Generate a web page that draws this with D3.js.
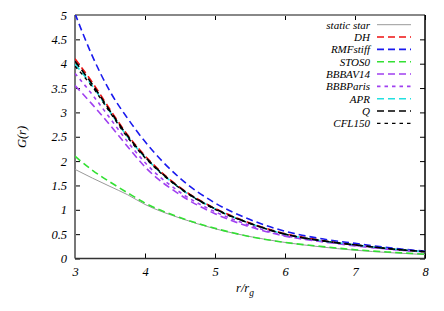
<!DOCTYPE html>
<html>
<head>
<meta charset="utf-8">
<script src="https://cdn.jsdelivr.net/npm/d3@7"></script>
<style>
  body { margin: 0; background: #fff; }
</style>
</head>
<body>
<svg id="chart" width="444" height="311"></svg>
<script>
// radius grid r/r_g and G(r)
const rVals = [3, 3.25, 3.5, 3.75, 4, 4.5, 5, 5.5, 6, 6.5, 7, 7.5, 8];

const staticStar = [1.83, 1.65, 1.48, 1.31, 1.11, 0.83, 0.61, 0.45, 0.33, 0.24, 0.17, 0.12, 0.08];
const gDH        = [4.10, 3.61, 3.06, 2.54, 2.11, 1.46, 1.03, 0.73, 0.51, 0.38, 0.28, 0.20, 0.14];
const gRMFstiff  = [5.03, 4.15, 3.43, 2.88, 2.40, 1.65, 1.14, 0.80, 0.56, 0.41, 0.31, 0.22, 0.15];
const gSTOS0     = [2.10, 1.81, 1.57, 1.35, 1.14, 0.84, 0.62, 0.45, 0.33, 0.25, 0.18, 0.13, 0.09];
const gBBBAV14   = [3.55, 3.16, 2.74, 2.30, 1.88, 1.31, 0.92, 0.65, 0.46, 0.35, 0.26, 0.19, 0.135];
const gBBBParis  = [3.80, 3.36, 2.88, 2.40, 1.97, 1.36, 0.96, 0.68, 0.47, 0.36, 0.27, 0.19, 0.14];
const gAPR       = [3.99, 3.54, 3.01, 2.50, 2.08, 1.44, 1.02, 0.72, 0.50, 0.37, 0.28, 0.20, 0.14];
const gQ         = [4.05, 3.57, 3.03, 2.52, 2.09, 1.45, 1.02, 0.72, 0.50, 0.37, 0.28, 0.20, 0.14];
const gCFL150    = [3.95, 3.52, 3.00, 2.49, 2.07, 1.44, 1.01, 0.72, 0.50, 0.37, 0.28, 0.20, 0.14];

const xTicks = [3, 4, 5, 6, 7, 8];
const yTicks = [0, 0.5, 1, 1.5, 2, 2.5, 3, 3.5, 4, 4.5, 5];

const series = [
  {name: "static star", vals: staticStar, color: "#999999", dash: null, w: 1},
  {name: "DH", vals: gDH, color: "#ee1111", dash: "7,4", w: 1.6},
  {name: "RMFstiff", vals: gRMFstiff, color: "#1a1aee", dash: "7,4", w: 1.6},
  {name: "STOS0", vals: gSTOS0, color: "#33e033", dash: "7,4", w: 1.6},
  {name: "BBBAV14", vals: gBBBAV14, color: "#a040f0", dash: "7,4", w: 1.6},
  {name: "BBBParis", vals: gBBBParis, color: "#a040f0", dash: "3.5,4", w: 1.6},
  {name: "APR", vals: gAPR, color: "#22e0e0", dash: "7,4", w: 1.6},
  {name: "Q", vals: gQ, color: "#000000", dash: "7,4", w: 1.6},
  {name: "CFL150", vals: gCFL150, color: "#000000", dash: "3.5,4", w: 1.4}
];

const serif = "'Liberation Serif', 'Times New Roman', Times, 'DejaVu Serif', serif";

const svg = d3.select("#chart");
const margin = {top: 15, right: 19, bottom: 52.5, left: 75};
const width = 444 - margin.left - margin.right;
const height = 311 - margin.top - margin.bottom;
const g = svg.append("g").attr("transform", `translate(${margin.left},${margin.top})`);

const x = d3.scaleLinear().domain([3, 8]).range([0, width]);
const y = d3.scaleLinear().domain([0, 5]).range([height, 0]);

svg.append("defs").append("clipPath").attr("id", "clip")
  .append("rect").attr("width", width).attr("height", height);

// ticks inward on all four sides
g.append("g").attr("transform", `translate(0,${height})`)
  .call(d3.axisBottom(x).tickValues(xTicks).tickSize(-5).tickPadding(9).tickFormat(d3.format("d")));
g.append("g")
  .call(d3.axisTop(x).tickValues(xTicks).tickSize(-5).tickFormat(""));
g.append("g")
  .call(d3.axisLeft(y).tickValues(yTicks).tickSize(-5).tickPadding(8).tickFormat(d => d));
g.append("g").attr("transform", `translate(${width},0)`)
  .call(d3.axisRight(y).tickValues(yTicks).tickSize(-5).tickFormat(""));

g.selectAll(".domain").remove();
g.selectAll("g").attr("font-family", serif);
g.selectAll(".tick line").attr("stroke", "#000");
g.selectAll(".tick text").attr("font-size", 12.5).attr("fill", "#000")
  .attr("font-family", serif).attr("font-style", "italic");

// frame
g.append("line").attr("x1", 0).attr("x2", width).attr("y1", 0).attr("y2", 0)
  .attr("stroke", "#888").attr("stroke-width", 2);
g.append("line").attr("x1", 0).attr("x2", 0).attr("y1", 0).attr("y2", height)
  .attr("stroke", "#777").attr("stroke-width", 2);
g.append("line").attr("x1", 0).attr("x2", width).attr("y1", height).attr("y2", height)
  .attr("stroke", "#333").attr("stroke-width", 1.5);
g.append("line").attr("x1", width).attr("x2", width).attr("y1", 0).attr("y2", height)
  .attr("stroke", "#000").attr("stroke-width", 1.5);

const line = d3.line()
  .x((d, i) => x(rVals[i]))
  .y(d => y(d))
  .curve(d3.curveMonotoneX);

g.append("g").attr("clip-path", "url(#clip)")
  .selectAll("path")
  .data(series)
  .join("path")
  .attr("d", d => line(d.vals))
  .attr("fill", "none")
  .attr("stroke", d => d.color)
  .attr("stroke-width", d => d.w)
  .attr("stroke-dasharray", d => d.dash);

// legend
const legend = g.append("g").attr("transform", "translate(295,9.7)");
const rows = legend.selectAll("g").data(series).join("g")
  .attr("transform", (d, i) => `translate(0,${i * 12.33})`);
rows.append("text")
  .attr("x", 0).attr("y", 4)
  .attr("text-anchor", "end")
  .attr("font-family", serif)
  .attr("font-style", "italic")
  .attr("font-size", 11)
  .text(d => d.name);
rows.append("line")
  .attr("x1", 7).attr("x2", 41).attr("y1", 0).attr("y2", 0)
  .attr("stroke", d => d.color)
  .attr("stroke-width", d => d.w)
  .attr("stroke-dasharray", d => d.dash);

// axis labels
svg.append("text")
  .attr("transform", "translate(26,137) rotate(-90)")
  .attr("text-anchor", "middle")
  .attr("font-family", serif)
  .attr("font-style", "italic")
  .attr("font-size", 12.5)
  .text("G(r)");

const xl = svg.append("text")
  .attr("x", 245).attr("y", 292)
  .attr("text-anchor", "middle")
  .attr("font-family", serif)
  .attr("font-style", "italic")
  .attr("font-size", 12.5);
xl.append("tspan").text("r/r");
xl.append("tspan").attr("dy", 4).attr("font-size", 9.5).text("g");
</script>
</body>
</html>
